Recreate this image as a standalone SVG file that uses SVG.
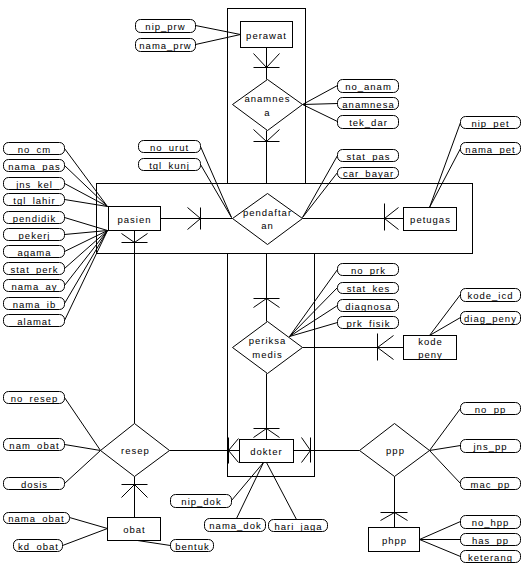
<svg xmlns="http://www.w3.org/2000/svg" width="522" height="566" viewBox="0 0 522 566">
<style>
.agg{fill:none;stroke:#000;stroke-width:1}
.ent{fill:#fff;stroke:#000;stroke-width:1}
.rel{fill:#fff;stroke:#000;stroke-width:1}
.att{fill:#fff;stroke:#000;stroke-width:1}
.c path{fill:none;stroke:#000;stroke-width:1}
text{font-family:"Liberation Sans",Arial,sans-serif;font-size:9.5px;letter-spacing:1px;text-anchor:middle;fill:#000}
</style>
<rect width="522" height="566" fill="#fff"/>
<g transform="translate(0.5,0.5)">
<g id="aggregates">
<rect class="agg" x="227" y="8" width="78" height="175"/>
<rect class="agg" x="96" y="183" width="376" height="70"/>
<rect class="agg" x="227" y="253" width="87" height="223"/>
</g>
<g id="connectors" class="c">
<path d="M195,25L240,34M195,44L240,34"/>
<path d="M337,85L302,104M337,103L302,104M337,121L302,104"/>
<path d="M266,47V79M253,53L266,67L279,53M253,67H279"/>
<path d="M266,130V183M253,129L266,141L279,129M253,141H279"/>
<path d="M200,146L231,217M200,164L231,217"/>
<path d="M337,155L302,217M337,172L302,217"/>
<path d="M460,122L429,207M460,148L429,207"/>
<path d="M160,218H232M187,207L200,218L187,229M200,207V229"/>
<path d="M302,218H403M398,207L384,218L398,229M384,203V230"/>
<path d="M64,148L107,206M64,165L107,206M64,183L107,206M64,199L107,206"/>
<path d="M64,217L107,230M64,234L107,230M64,251L107,230M64,268L107,230M64,285L107,230M64,303L107,230M64,320L107,230"/>
<path d="M134,230V423M121,233L134,242L147,233M121,242H147"/>
<path d="M134,476V517M121,497L134,484L147,497M121,484H147"/>
<path d="M169,450H239M238,438L228,450L238,462M228,437V463"/>
<path d="M64,397L100,450M64,444L100,450M64,483L100,450"/>
<path d="M69,517L107,528M62,545L107,528M137,540L170,545"/>
<path d="M231,500L263,462M236,518L263,462M296,519L266,462"/>
<path d="M266,373V439M253,437L266,428L279,437M253,428H279"/>
<path d="M266,321V253M253,307L266,298L279,307M253,298H279"/>
<path d="M302,347H403M393,335L377,347L393,359M377,333V360"/>
<path d="M337,269L289,336M337,287L289,336M337,305L289,336M337,322L289,336"/>
<path d="M460,294L429,335M460,317L429,335"/>
<path d="M293,450H359M301,437L310,450L301,462M310,437V462"/>
<path d="M394,476V527M380,520L394,512L407,520M380,512H407"/>
<path d="M460,408L429,450M460,445L429,450M460,483L429,450"/>
<path d="M460,521L419,539M460,539L419,539M460,556L419,539"/>
</g>
<g id="perawat"><rect class="ent" x="240" y="21" width="52" height="26"/><text x="266" y="38">perawat</text></g>
<g id="pasien"><rect class="ent" x="108" y="206" width="52" height="24"/><text x="134" y="222">pasien</text></g>
<g id="petugas"><rect class="ent" x="403" y="207" width="53" height="23"/><text x="430" y="222">petugas</text></g>
<g id="kode_peny"><rect class="ent" x="403" y="335" width="53" height="24"/><text x="430" y="344">kode</text><text x="430" y="357">peny</text></g>
<g id="dokter"><rect class="ent" x="239" y="439" width="54" height="23"/><text x="266" y="454">dokter</text></g>
<g id="obat"><rect class="ent" x="107" y="517" width="53" height="23"/><text x="134" y="532">obat</text></g>
<g id="phpp"><rect class="ent" x="368" y="527" width="51" height="24"/><text x="394" y="543">phpp</text></g>
<g id="anamnesa_rel"><polygon class="rel" points="267,79 302,104 267,130 232,104"/><text x="267" y="101">anamnes</text><text x="267" y="115">a</text></g>
<g id="pendaftaran"><polygon class="rel" points="267,193 302,218 267,244 232,218"/><text x="267" y="215">pendaftar</text><text x="267" y="228">an</text></g>
<g id="periksa_medis"><polygon class="rel" points="267,321 302,347 267,373 232,347"/><text x="267" y="343">periksa</text><text x="267" y="357">medis</text></g>
<g id="resep"><polygon class="rel" points="134,423 169,450 134,476 100,450"/><text x="135" y="453">resep</text></g>
<g id="ppp"><polygon class="rel" points="394,423 429,450 394,476 359,450"/><text x="395" y="453">ppp</text></g>
<g id="nip_prw"><rect class="att" x="135" y="19" width="60" height="13" rx="5"/><text x="165" y="29">nip_prw</text></g>
<g id="nama_prw"><rect class="att" x="135" y="38" width="60" height="13" rx="5"/><text x="165" y="48">nama_prw</text></g>
<g id="no_urut"><rect class="att" x="138" y="140" width="62" height="12" rx="5"/><text x="169" y="150">no_urut</text></g>
<g id="tgl_kunj"><rect class="att" x="138" y="158" width="62" height="12" rx="5"/><text x="169" y="168">tgl_kunj</text></g>
<g id="no_cm"><rect class="att" x="3" y="142" width="61" height="12" rx="5"/><text x="34" y="152">no_cm</text></g>
<g id="nama_pas"><rect class="att" x="3" y="159" width="61" height="12" rx="5"/><text x="34" y="169">nama_pas</text></g>
<g id="jns_kel"><rect class="att" x="3" y="177" width="61" height="12" rx="5"/><text x="34" y="187">jns_kel</text></g>
<g id="tgl_lahir"><rect class="att" x="3" y="193" width="61" height="12" rx="5"/><text x="34" y="203">tgl_lahir</text></g>
<g id="pendidik"><rect class="att" x="3" y="211" width="61" height="12" rx="5"/><text x="34" y="221">pendidik</text></g>
<g id="pekerj"><rect class="att" x="3" y="228" width="61" height="12" rx="5"/><text x="34" y="238">pekerj</text></g>
<g id="agama"><rect class="att" x="3" y="245" width="61" height="12" rx="5"/><text x="34" y="255">agama</text></g>
<g id="stat_perk"><rect class="att" x="3" y="262" width="61" height="12" rx="5"/><text x="34" y="272">stat_perk</text></g>
<g id="nama_ay"><rect class="att" x="3" y="279" width="61" height="12" rx="5"/><text x="34" y="289">nama_ay</text></g>
<g id="nama_ib"><rect class="att" x="3" y="297" width="61" height="12" rx="5"/><text x="34" y="307">nama_ib</text></g>
<g id="alamat"><rect class="att" x="3" y="314" width="61" height="12" rx="5"/><text x="34" y="324">alamat</text></g>
<g id="no_anam"><rect class="att" x="337" y="79" width="61" height="13" rx="5"/><text x="368" y="89">no_anam</text></g>
<g id="anamnesa"><rect class="att" x="337" y="97" width="61" height="12" rx="5"/><text x="368" y="107">anamnesa</text></g>
<g id="tek_dar"><rect class="att" x="337" y="115" width="61" height="13" rx="5"/><text x="368" y="125">tek_dar</text></g>
<g id="nip_pet"><rect class="att" x="460" y="116" width="60" height="12" rx="5"/><text x="490" y="126">nip_pet</text></g>
<g id="nama_pet"><rect class="att" x="460" y="142" width="60" height="12" rx="5"/><text x="490" y="152">nama_pet</text></g>
<g id="stat_pas"><rect class="att" x="337" y="149" width="61" height="12" rx="5"/><text x="368" y="159">stat_pas</text></g>
<g id="car_bayar"><rect class="att" x="337" y="167" width="61" height="11" rx="5"/><text x="368" y="176">car_bayar</text></g>
<g id="no_prk"><rect class="att" x="337" y="263" width="61" height="12" rx="5"/><text x="368" y="273">no_prk</text></g>
<g id="stat_kes"><rect class="att" x="337" y="282" width="61" height="11" rx="5"/><text x="368" y="291">stat_kes</text></g>
<g id="diagnosa"><rect class="att" x="337" y="299" width="61" height="12" rx="5"/><text x="368" y="309">diagnosa</text></g>
<g id="prk_fisik"><rect class="att" x="337" y="316" width="61" height="12" rx="5"/><text x="368" y="326">prk_fisik</text></g>
<g id="kode_icd"><rect class="att" x="460" y="288" width="60" height="13" rx="5"/><text x="490" y="298">kode_icd</text></g>
<g id="diag_peny"><rect class="att" x="460" y="311" width="60" height="13" rx="5"/><text x="490" y="321">diag_peny</text></g>
<g id="no_resep"><rect class="att" x="3" y="391" width="61" height="12" rx="5"/><text x="34" y="401">no_resep</text></g>
<g id="nam_obat"><rect class="att" x="3" y="438" width="61" height="12" rx="5"/><text x="34" y="448">nam_obat</text></g>
<g id="dosis"><rect class="att" x="3" y="477" width="61" height="12" rx="5"/><text x="34" y="487">dosis</text></g>
<g id="nama_obat"><rect class="att" x="3" y="512" width="66" height="11" rx="5"/><text x="36" y="521">nama_obat</text></g>
<g id="kd_obat"><rect class="att" x="13" y="539" width="49" height="12" rx="5"/><text x="38" y="549">kd_obat</text></g>
<g id="bentuk"><rect class="att" x="170" y="539" width="43" height="12" rx="5"/><text x="192" y="549">bentuk</text></g>
<g id="nip_dok"><rect class="att" x="170" y="494" width="61" height="13" rx="5"/><text x="201" y="504">nip_dok</text></g>
<g id="nama_dok"><rect class="att" x="204" y="518" width="61" height="13" rx="5"/><text x="235" y="528">nama_dok</text></g>
<g id="hari_jaga"><rect class="att" x="268" y="519" width="59" height="12" rx="5"/><text x="298" y="529">hari_jaga</text></g>
<g id="no_pp"><rect class="att" x="460" y="402" width="60" height="12" rx="5"/><text x="490" y="412">no_pp</text></g>
<g id="jns_pp"><rect class="att" x="460" y="439" width="60" height="13" rx="5"/><text x="490" y="449">jns_pp</text></g>
<g id="mac_pp"><rect class="att" x="460" y="477" width="60" height="12" rx="5"/><text x="490" y="487">mac_pp</text></g>
<g id="no_hpp"><rect class="att" x="460" y="515" width="60" height="13" rx="5"/><text x="490" y="525">no_hpp</text></g>
<g id="has_pp"><rect class="att" x="460" y="533" width="60" height="12" rx="5"/><text x="490" y="543">has_pp</text></g>
<g id="keterang"><rect class="att" x="460" y="550" width="60" height="12" rx="5"/><text x="490" y="560">keterang</text></g>
</g>
</svg>
